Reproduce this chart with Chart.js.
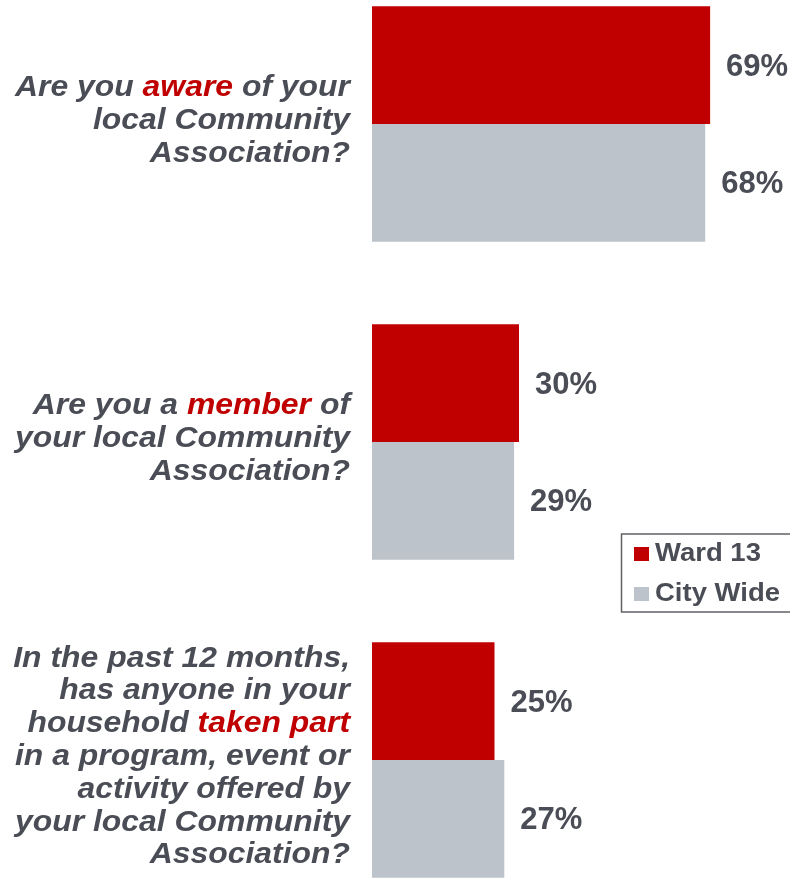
<!DOCTYPE html>
<html>
<head>
<meta charset="utf-8">
<script src="https://cdn.jsdelivr.net/npm/chart.js@4"></script>
<style>
  html, body { margin: 0; padding: 0; background: #fff; overflow: hidden; width: 790px; height: 878px; }
  #wrap { position: absolute; left: 0; top: -35px; width: 790px; height: 954px; }
</style>
</head>
<body>
<div id="wrap"><canvas id="chart"></canvas></div>
<script>
// question labels, one array of lines per category; [text, highlighted]
const questionLines = [
  [
    [['Are you ', false], ['aware', true], [' of your', false]],
    [['local Community', false]],
    [['Association?', false]]
  ],
  [
    [['Are you a ', false], ['member', true], [' of', false]],
    [['your local Community', false]],
    [['Association?', false]]
  ],
  [
    [['In the past 12 months,', false]],
    [['has anyone in your', false]],
    [['household ', false], ['taken part', true]],
    [['in a program, event or', false]],
    [['activity offered by', false]],
    [['your local Community', false]],
    [['Association?', false]]
  ]
];
const categories = ['Aware', 'Member', 'Taken part'];
const seriesNames = ['Ward 13', 'City Wide'];
const ward13Values = [69, 30, 25];
const cityWideValues = [68, 29, 27];

const RED = '#c00000';
const GREY = '#bcc3ca';
const TEXT = '#4a4d55';
const STRETCH = 1.1;

function drawWide(ctx, text, x, y) {
  ctx.save();
  ctx.translate(x, y);
  ctx.scale(STRETCH, 1);
  ctx.fillText(text, 0, 0);
  ctx.restore();
}

const questionLabelsPlugin = {
  id: 'questionLabels',
  afterDraw(chart) {
    const ctx = chart.ctx;
    const yScale = chart.scales.y;
    const rightX = 350;
    const lineHeight = 32.8;
    ctx.save();
    ctx.font = 'italic bold 29px "Liberation Sans", Arial, sans-serif';
    ctx.textBaseline = 'middle';
    ctx.textAlign = 'left';
    questionLines.forEach((lines, i) => {
      const center = yScale.getPixelForValue(i) - 3;
      const startY = center - (lines.length - 1) / 2 * lineHeight;
      lines.forEach((segments, j) => {
        const y = startY + j * lineHeight;
        const total = segments.reduce((sum, [text]) => sum + ctx.measureText(text).width * STRETCH, 0);
        let x = rightX - total;
        segments.forEach(([text, highlight]) => {
          ctx.fillStyle = highlight ? RED : TEXT;
          drawWide(ctx, text, x, y);
          x += ctx.measureText(text).width * STRETCH;
        });
      });
    });
    ctx.restore();
  }
};

const valueLabelsPlugin = {
  id: 'valueLabels',
  afterDatasetsDraw(chart) {
    const ctx = chart.ctx;
    ctx.save();
    ctx.font = 'bold 31px "Liberation Sans", Arial, sans-serif';
    ctx.fillStyle = TEXT;
    ctx.textBaseline = 'middle';
    ctx.textAlign = 'left';
    chart.data.datasets.forEach((dataset, d) => {
      chart.getDatasetMeta(d).data.forEach((bar, i) => {
        ctx.fillText(dataset.data[i] + '%', bar.x + 16, bar.y + 2);
      });
    });
    ctx.restore();
  }
};

const legendBoxPlugin = {
  id: 'legendBox',
  afterDraw(chart) {
    const ctx = chart.ctx;
    const top = 534 + 35;
    ctx.save();
    ctx.strokeStyle = '#5f6166';
    ctx.lineWidth = 1.5;
    ctx.strokeRect(621.5, top, 180, 78);
    ctx.font = 'bold 25px "Liberation Sans", Arial, sans-serif';
    ctx.textBaseline = 'middle';
    chart.data.datasets.forEach((dataset, d) => {
      const cy = top + 20 + d * 40;
      ctx.fillStyle = dataset.backgroundColor;
      ctx.fillRect(634, cy - 7, 15, 14);
      ctx.fillStyle = TEXT;
      drawWide(ctx, dataset.label, 655, cy);
    });
    ctx.restore();
  }
};

new Chart(document.getElementById('chart'), {
  type: 'bar',
  data: {
    labels: categories,
    datasets: [
      { label: seriesNames[0], data: ward13Values, backgroundColor: RED },
      { label: seriesNames[1], data: cityWideValues, backgroundColor: GREY }
    ]
  },
  options: {
    indexAxis: 'y',
    responsive: true,
    maintainAspectRatio: false,
    animation: false,
    layout: { padding: { left: 372, right: 0, top: 0, bottom: 0 } },
    datasets: { bar: { categoryPercentage: 0.74, barPercentage: 1.0 } },
    plugins: { legend: { display: false }, tooltip: { enabled: false } },
    scales: {
      x: { display: false, min: 0, max: 85.3 },
      y: { display: false, offset: true }
    }
  },
  plugins: [questionLabelsPlugin, valueLabelsPlugin, legendBoxPlugin]
});
</script>
</body>
</html>
